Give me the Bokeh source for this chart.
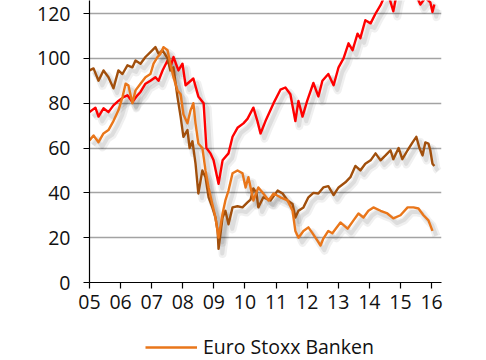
from bokeh.plotting import figure
from bokeh.layouts import column
from bokeh.models import (FixedTicker, Range1d, Legend, LegendItem, ColumnDataSource)
from bokeh.transform import dodge
from bokeh.embed import file_html
from bokeh.resources import INLINE

# ---------------- data (decimal years, index values) ----------------
red_x = [2005.00, 2005.19, 2005.29, 2005.45, 2005.61, 2005.77, 2005.93, 2006.09, 2006.22,
         2006.38, 2006.54, 2006.64, 2006.80, 2006.96, 2007.12, 2007.22, 2007.35, 2007.51,
         2007.60, 2007.70, 2007.86, 2007.99, 2008.09, 2008.34, 2008.50, 2008.67, 2008.76,
         2008.89, 2008.99, 2009.15, 2009.28, 2009.47, 2009.60, 2009.76, 2009.95, 2010.08,
         2010.27, 2010.40, 2010.50, 2010.66, 2010.92, 2011.14, 2011.30, 2011.46, 2011.62,
         2011.72, 2011.85, 2012.00, 2012.20, 2012.36, 2012.49, 2012.68, 2012.85, 2013.01,
         2013.17, 2013.33, 2013.46, 2013.62, 2013.71, 2013.87, 2014.04, 2014.20, 2014.36,
         2014.45, 2014.62, 2014.77, 2014.87, 2015.16, 2015.32, 2015.48, 2015.64, 2015.80,
         2015.96, 2016.03, 2016.09]
red_y = [76, 78, 74, 77.7, 76, 79, 81, 82.7, 83.5,
         80.5, 83.5, 85, 88.7, 90, 91.6, 90, 94.6, 99,
         96, 100.6, 94.6, 97.6, 88, 91, 83, 80, 60,
         57.6, 54.5, 44, 54.5, 57.6, 65, 69, 71, 73,
         78, 72, 66.5, 72, 80, 86, 87, 84, 72,
         81, 74, 81, 89, 83, 90, 93, 88, 96,
         100, 106.7, 103.6, 111, 109, 117, 115.6, 120, 123.7,
         126.5, 128, 121, 128, 135, 131, 129, 124, 127,
         125, 120.7, 124]

brown_x = [2005.00, 2005.13, 2005.29, 2005.45, 2005.61, 2005.77, 2005.93, 2006.06, 2006.22,
           2006.38, 2006.48, 2006.64, 2006.80, 2006.96, 2007.12, 2007.22, 2007.35, 2007.51,
           2007.60, 2007.70, 2007.83, 2007.93, 2008.02, 2008.15, 2008.22, 2008.31, 2008.41,
           2008.50, 2008.63, 2008.73, 2008.83, 2008.95, 2009.05, 2009.12, 2009.15, 2009.28,
           2009.37, 2009.47, 2009.60, 2009.76, 2009.92, 2010.08, 2010.18, 2010.27, 2010.37,
           2010.43, 2010.59, 2010.82, 2011.05, 2011.21, 2011.37, 2011.53, 2011.62, 2011.72,
           2011.88, 2012.04, 2012.20, 2012.36, 2012.52, 2012.68, 2012.85, 2013.01, 2013.23,
           2013.39, 2013.55, 2013.71, 2013.87, 2014.04, 2014.20, 2014.36, 2014.52, 2014.68,
           2014.77, 2014.94, 2015.06, 2015.23, 2015.39, 2015.51, 2015.61, 2015.71, 2015.80,
           2015.90, 2015.96, 2016.03, 2016.09]
brown_y = [94.6, 95.5, 90, 94.6, 91.6, 86.6, 94.6, 93, 96.9,
           96, 99, 97.6, 100.6, 102.8, 105, 102, 103.6, 100,
           94.6, 96, 82.7, 74, 65, 68, 60, 63, 53,
           39.7, 50, 47, 38, 33.5, 29, 23, 15, 29,
           32, 26, 33.5, 34, 33.5, 35.7, 37, 42, 40,
           33.5, 38, 36.6, 41, 39.7, 36.6, 35, 29, 32,
           33.5, 38, 40, 39.7, 42.4, 43, 39, 42.4, 44.7,
           47, 52, 50, 53, 54.5, 57.6, 54.5, 56.7, 59,
           55, 60, 55, 59, 62.5, 65, 60, 56.7, 62.5,
           62, 59, 53, 52]

orange_x = [2005.00, 2005.13, 2005.29, 2005.45, 2005.61, 2005.77, 2005.93, 2006.06, 2006.16,
            2006.25, 2006.38, 2006.48, 2006.64, 2006.80, 2006.96, 2007.06, 2007.19, 2007.28,
            2007.38, 2007.51, 2007.60, 2007.70, 2007.83, 2007.93, 2008.02, 2008.15, 2008.25,
            2008.34, 2008.41, 2008.50, 2008.63, 2008.73, 2008.83, 2008.95, 2009.05, 2009.15,
            2009.28, 2009.37, 2009.47, 2009.60, 2009.76, 2009.92, 2010.02, 2010.11, 2010.27,
            2010.43, 2010.59, 2010.76, 2010.92, 2011.14, 2011.37, 2011.53, 2011.62, 2011.72,
            2011.88, 2012.04, 2012.17, 2012.33, 2012.43, 2012.52, 2012.68, 2012.81, 2013.07,
            2013.30, 2013.49, 2013.65, 2013.81, 2013.97, 2014.13, 2014.36, 2014.58, 2014.77,
            2015.00, 2015.23, 2015.42, 2015.58, 2015.74, 2015.90, 2016.03]
orange_y = [63.4, 65.6, 62.6, 66.5, 68, 72, 76.8, 82.7, 88.7,
            88, 80, 85.7, 88.7, 91.6, 93, 97.6, 100.6, 102,
            105, 103.6, 97.6, 91.6, 85.7, 84, 75, 71, 76.8,
            80, 71, 62, 60, 50, 42.4, 35, 29, 20,
            30.8, 36.6, 41, 48.7, 50, 48.7, 42.4, 47, 36.6,
            42.4, 39.7, 36.6, 39.7, 38, 36.6, 32, 23, 20,
            23, 24.6, 22, 18.7, 16.5, 19.6, 23, 22, 26.8,
            24, 27.7, 30.8, 29, 32, 33.5, 32, 30.8, 28.6,
            30, 33.5, 33.5, 33, 30, 27.7, 23]

year_ticks = [2005, 2006, 2007, 2008, 2009, 2010, 2011, 2012, 2013, 2014, 2015, 2016]
year_labels = ["05", "06", "07", "08", "09", "10", "11", "12", "13", "14", "15", "16"]
value_ticks = [0, 20, 40, 60, 80, 100, 120]
legend_label = "Euro Stoxx Banken"

RED = "#ff0000"
BROWN = "#a14f0c"
ORANGE = "#e9761a"
FONT = "Open Sans"

p = figure(width=486, height=332, output_backend="svg", toolbar_location=None,
           x_range=Range1d(2005, 2016.32), y_range=Range1d(0, 125.8),
           min_border_left=89, min_border_right=45, min_border_top=0, min_border_bottom=50)
p.outline_line_color = None
p.background_fill_color = "white"
p.border_fill_color = "white"

# grid
p.xgrid.visible = False
p.ygrid.ticker = FixedTicker(ticks=value_ticks[1:])
p.ygrid.grid_line_color = "#a3a3a3"
p.ygrid.grid_line_width = 1.5

# axes
for ax in (p.xaxis[0], p.yaxis[0]):
    ax.axis_line_color = "black"
    ax.axis_line_width = 1.2
    ax.major_tick_line_color = "black"
    ax.major_tick_line_width = 1.2
    ax.major_tick_in = 0
    ax.major_tick_out = 6
    ax.minor_tick_line_color = None
    ax.major_label_text_font = FONT
    ax.major_label_text_font_size = "19.5px"
    ax.major_label_text_color = "#111111"

p.xaxis.ticker = FixedTicker(ticks=year_ticks)
p.xaxis.major_label_overrides = {t: l for t, l in zip(year_ticks, year_labels)}
p.xaxis.major_label_standoff = 6
p.yaxis.ticker = FixedTicker(ticks=value_ticks)
p.yaxis.major_label_standoff = 13

series = [(red_x, red_y, RED), (brown_x, brown_y, BROWN), (orange_x, orange_y, ORANGE)]
sources = [ColumnDataSource(dict(x=xs, y=ys)) for xs, ys, _ in series]

# soft drop shadows
for src in sources:
    p.line(x=dodge("x", 0.13, range=p.x_range), y=dodge("y", -2.3, range=p.y_range),
           source=src, line_color="black", line_alpha=0.06, line_width=8, line_join="round")
    p.line(x=dodge("x", 0.12, range=p.x_range), y=dodge("y", -2.1, range=p.y_range),
           source=src, line_color="black", line_alpha=0.08, line_width=4, line_join="round")

for src, (_, _, col) in zip(sources, series):
    p.line(x="x", y="y", source=src, line_color=col, line_width=2.4, line_join="round")

# legend strip below the chart (its frame is aligned with the chart's frame)
lg = figure(width=486, height=28, output_backend="svg", toolbar_location=None,
            x_range=Range1d(0, 1), y_range=Range1d(0, 1),
            min_border_left=89, min_border_right=45, min_border_top=0, min_border_bottom=0)
lg.axis.visible = False
lg.grid.visible = False
lg.outline_line_color = None
# legend swatch renderer: the orange series, lying outside this strip's ranges
swatch = lg.line(x=orange_x, y=orange_y, line_color=ORANGE, line_width=2.4)
legend = Legend(items=[LegendItem(label=legend_label, renderers=[swatch])],
                location=(56, 0), orientation="vertical",
                glyph_width=52, glyph_height=20, label_standoff=6,
                label_text_font=FONT, label_text_font_size="19.5px", label_text_color="#111111",
                border_line_color=None, background_fill_alpha=0,
                padding=0, margin=0, spacing=0)
lg.add_layout(legend, "center")

open("out.html", "w").write(file_html(column(p, lg, spacing=0), INLINE))
